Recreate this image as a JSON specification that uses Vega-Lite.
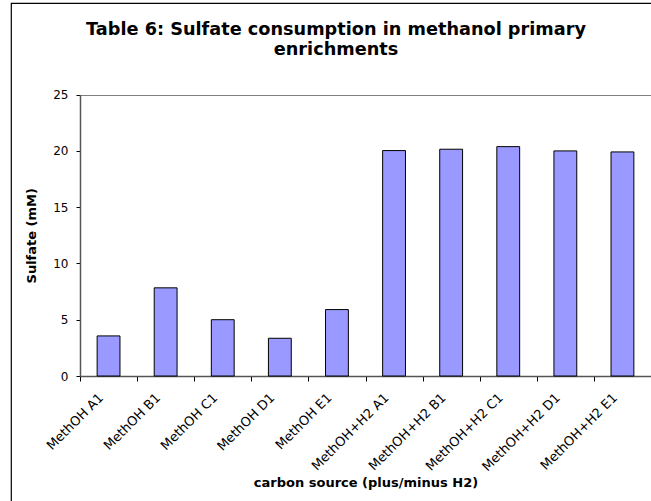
{
  "$schema": "https://vega.github.io/schema/vega-lite/v6.json",
  "autosize": "none",
  "width": 650,
  "height": 528,
  "padding": {"left": 11, "top": 3, "right": -10, "bottom": -30},
  "background": "#ffffff",
  "config": {
    "font": "DejaVu Sans",
    "view": {"stroke": "#000000", "strokeWidth": 1.2}
  },
  "title": {
    "text": ["Table 6: Sulfate consumption in methanol primary", "enrichments"],
    "font": "DejaVu Sans",
    "fontSize": 17.7,
    "fontWeight": "bold",
    "color": "#000000",
    "anchor": "middle",
    "frame": "group",
    "baseline": "alphabetic",
    "lineHeight": 20,
    "offset": -70
  },
  "data": {
    "values": [
      {"source": "MethOH A1", "sulfate": 3.56},
      {"source": "MethOH B1", "sulfate": 7.83},
      {"source": "MethOH C1", "sulfate": 5.0},
      {"source": "MethOH D1", "sulfate": 3.35},
      {"source": "MethOH E1", "sulfate": 5.9},
      {"source": "MethOH+H2 A1", "sulfate": 20.02},
      {"source": "MethOH+H2 B1", "sulfate": 20.14},
      {"source": "MethOH+H2 C1", "sulfate": 20.37},
      {"source": "MethOH+H2 D1", "sulfate": 19.99},
      {"source": "MethOH+H2 E1", "sulfate": 19.9}
    ]
  },
  "mark": {
    "type": "bar",
    "fill": "#9999FF",
    "stroke": "#000000",
    "strokeWidth": 1,
    "width": {"band": 0.4}
  },
  "encoding": {
    "x": {
      "field": "source",
      "type": "nominal",
      "sort": null,
      "scale": {"range": [69, 640], "paddingInner": 0, "paddingOuter": 0},
      "axis": {
        "orient": "bottom",
        "offset": -155,
        "tickBand": "extent",
        "domainColor": "#555555",
        "domainWidth": 1.5,
        "tickColor": "#000000",
        "tickSize": 5,
        "labelAngle": -45,
        "labelFontSize": 13,
        "labelColor": "#000000",
        "labelPadding": 10,
        "labelOffset": -12,
        "title": "carbon source (plus/minus H2)",
        "titleFontSize": 13,
        "titleFontWeight": "bold",
        "titleColor": "#000000",
        "titlePadding": 3
      }
    },
    "y": {
      "field": "sulfate",
      "type": "quantitative",
      "scale": {"domain": [0, 25], "range": [373, 91.5], "nice": false},
      "axis": {
        "orient": "left",
        "offset": -69,
        "values": [0, 5, 10, 15, 20, 25],
        "domainColor": "#555555",
        "domainWidth": 1.5,
        "tickColor": "#000000",
        "tickSize": 4,
        "labelFontSize": 12,
        "labelColor": "#000000",
        "labelPadding": 8,
        "grid": true,
        "gridColor": "#808080",
        "gridOpacity": {"condition": {"test": "datum.value === 25", "value": 1}, "value": 0},
        "title": "Sulfate (mM)",
        "titleFontSize": 13,
        "titleFontWeight": "bold",
        "titleColor": "#000000",
        "titlePadding": 14
      }
    }
  }
}
